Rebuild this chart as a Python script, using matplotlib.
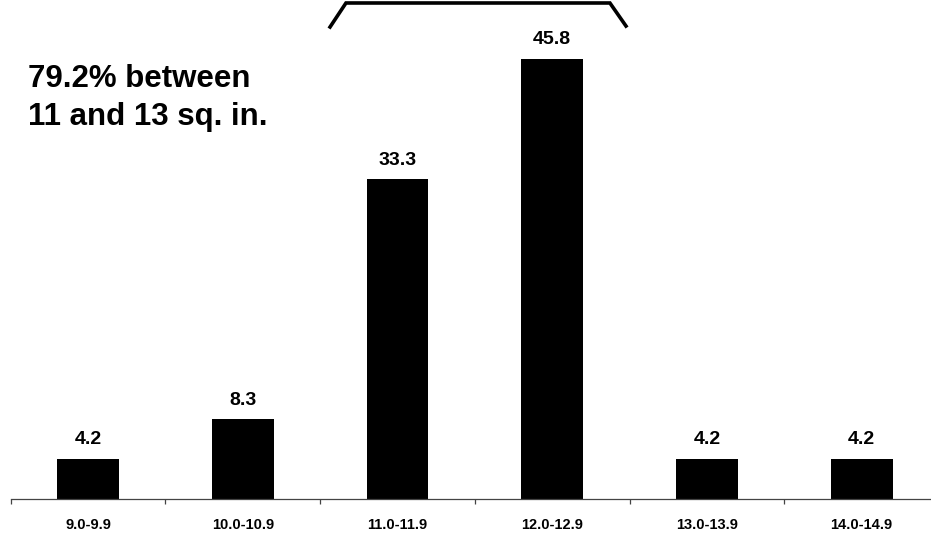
import matplotlib
matplotlib.use("Agg")
import matplotlib.pyplot as plt
from matplotlib.lines import Line2D

categories = ["9.0-9.9", "10.0-10.9", "11.0-11.9", "12.0-12.9", "13.0-13.9", "14.0-14.9"]
values = [4.2, 8.3, 33.3, 45.8, 4.2, 4.2]
note_lines = ["79.2% between", "11 and 13 sq. in."]

plt.rcParams['font.family'] = ['Liberation Sans', 'DejaVu Sans']
plt.rcParams['font.weight'] = 'bold'

W, H = 931, 550
fig = plt.figure(figsize=(W / 100, H / 100), dpi=100)
left_px, right_px, base_px = 10.7, 939.0, 499.0
ax = fig.add_axes([left_px / W, (H - base_px) / H, (right_px - left_px) / W, base_px / H])
px_per_unit = 9.607
ax.set_xlim(-0.5, len(categories) - 0.5)
ax.set_ylim(0, base_px / px_per_unit)

x = list(range(len(categories)))
ax.bar(x, values, width=0.4, color='black')
for xi, v in zip(x, values):
    ax.annotate(f"{v:.1f}", (xi, v), xytext=(0, 10.5), textcoords='offset points',
                ha='center', va='baseline', fontsize=14, fontweight='bold')

for s in ['top', 'right', 'left']:
    ax.spines[s].set_visible(False)
ax.spines['bottom'].set_color('#444444')
ax.spines['bottom'].set_linewidth(0.9)
ax.set_yticks([])
ax.set_xticks(x)
ax.set_xticklabels(categories, fontsize=10.5, fontweight='bold')
ax.tick_params(axis='x', which='major', length=0, pad=14)
ax.set_xticks([i - 0.5 for i in range(len(categories) + 1)], minor=True)
ax.tick_params(axis='x', which='minor', length=3.5, width=0.9, color='#444444')

# bracket over 11-13 range
bx = [1.564, 1.667, 3.373, 3.477]
by = [49.13, 51.63, 51.63, 49.23]
ax.add_line(Line2D(bx, by, color='black', lw=2.6, clip_on=False, solid_joinstyle='miter'))

ax.text(-0.388, (base_px - 87) / px_per_unit, note_lines[0], ha='left', va='baseline',
        fontsize=22.5, fontweight='bold')
ax.text(-0.388, (base_px - 125) / px_per_unit, note_lines[1], ha='left', va='baseline',
        fontsize=22.5, fontweight='bold')

fig.savefig("out.png", dpi=100, facecolor='white')
